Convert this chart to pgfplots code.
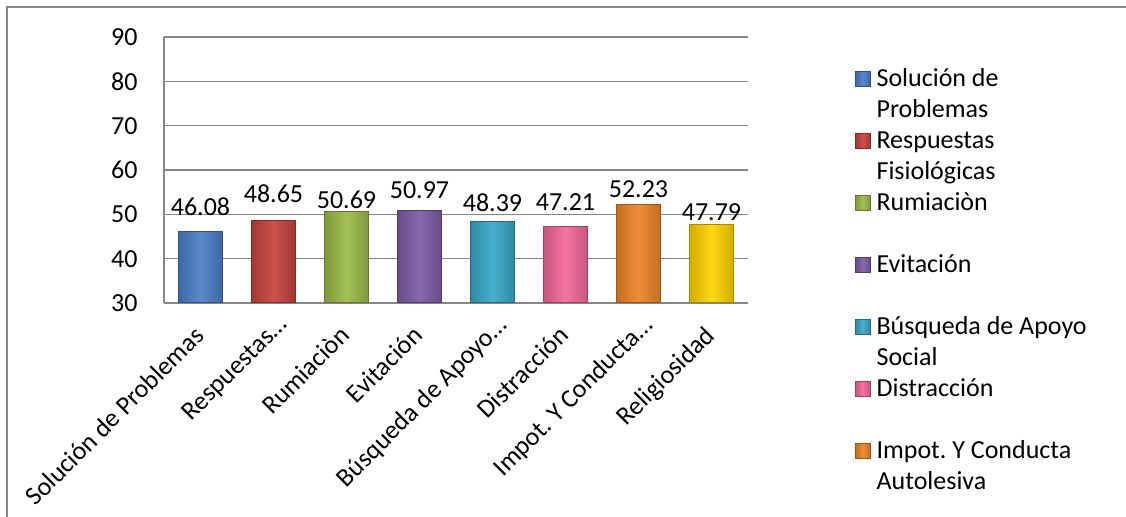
\documentclass[border=0pt]{standalone}
\usepackage{pgfplots}
\pgfplotsset{compat=1.18}
\usepackage{fontspec}
\setmainfont{Carlito}
\frenchspacing
\definecolor{gridgray}{RGB}{134,134,134}
\definecolor{cA}{RGB}{74,126,200}
\definecolor{cB}{RGB}{200,66,60}
\definecolor{cC}{RGB}{155,187,72}
\definecolor{cD}{RGB}{126,92,166}
\definecolor{cE}{RGB}{56,168,200}
\definecolor{cF}{RGB}{244,103,156}
\definecolor{cG}{RGB}{238,132,40}
\definecolor{cH}{RGB}{255,212,0}
\newcommand\fs{\fontsize{13pt}{15.5pt}\selectfont}
\newcommand\lgd[1]{\raisebox{0pt}[19.25pt][11.75pt]{\parbox[t]{110pt}{#1}}}
\begin{document}
\begin{tikzpicture}
\useasboundingbox (0,0) rectangle (563pt,258.5pt);
\draw[gridgray, line width=0.8pt] (3.5pt,-5pt) -- (3.5pt,255pt) -- (570pt,255pt);
\begin{axis}[
  at={(82pt,107pt)}, anchor=south west,
  scale only axis, width=292pt, height=133pt,
  ybar, bar width=22pt,
  xmin=-0.5, xmax=7.5, ymin=30, ymax=90,
  enlargelimits=false,
  ytick={30,40,...,90},
  xtick={0,...,7},
  xticklabels={Solución de Problemas, Respuestas…\hspace*{-7.5pt}, Rumiaciòn, Evitación, Búsqueda de Apoyo…\hspace*{-7.5pt}, Distracción, Impot.\ Y Conducta…\hspace*{-7.5pt}, Religiosidad},
  /pgf/number format/assume math mode=true,
  major tick length=0pt,
  tick style={draw=none},
  ymajorgrids,
  grid style={gridgray, line width=0.8pt},
  axis lines*=left,
  axis line style={gridgray, line width=0.8pt},
  yticklabel style={font=\fs, anchor=east, inner sep=0pt, xshift=-13pt},
  xticklabel style={font=\fs, inner sep=0pt, xshift=-4pt, yshift=-10.5pt, rotate=45, anchor=north east},
  nodes near coords={\pgfmathprintnumber[fixed,fixed zerofill,precision=2]{\pgfplotspointmeta}},
  nodes near coords style={font=\fs, inner sep=0pt, anchor=south},
  legend cell align=left,
  legend style={at={(1.1832,0.958)}, anchor=north west, draw=none, fill=none,
    inner sep=0pt, outer sep=0pt, row sep=0pt, /tikz/column sep=3pt, font=\fs,
    nodes={inner sep=0pt, text depth=, text height=}},
  mybar/.style={left color=#1!82!black, right color=#1!82!black, middle color=#1!92!white,
    draw=#1!65!black, line width=0.5pt, bar shift=0pt,
    legend image code/.code={\draw[##1, line width=0.3pt] (0pt,-3.75pt) rectangle (7.5pt,3.75pt);}},
]
\addplot[mybar=cA, nodes near coords style={yshift=7.5pt}] coordinates {(0,46.08)};
\addlegendentry{\lgd{Solución de\\Problemas}}
\addplot[mybar=cB, nodes near coords style={yshift=8.5pt}] coordinates {(1,48.65)};
\addlegendentry{\lgd{Respuestas\\Fisiológicas}}
\addplot[mybar=cC, nodes near coords style={yshift=1pt}] coordinates {(2,50.69)};
\addlegendentry{\lgd{Rumiaciòn}}
\addplot[mybar=cD, nodes near coords style={yshift=5.5pt}] coordinates {(3,50.97)};
\addlegendentry{\lgd{Evitación}}
\addplot[mybar=cE, nodes near coords style={yshift=4.5pt}] coordinates {(4,48.39)};
\addlegendentry{\lgd{Búsqueda de Apoyo\\Social}}
\addplot[mybar=cF, nodes near coords style={yshift=7.5pt}] coordinates {(5,47.21)};
\addlegendentry{\lgd{Distracción}}
\addplot[mybar=cG, nodes near coords style={yshift=3pt}] coordinates {(6,52.23)};
\addlegendentry{\lgd{Impot. Y Conducta\\Autolesiva}}
\addplot[mybar=cH, forget plot, nodes near coords style={yshift=1.5pt}] coordinates {(7,47.79)};
\end{axis}
\end{tikzpicture}
\end{document}
